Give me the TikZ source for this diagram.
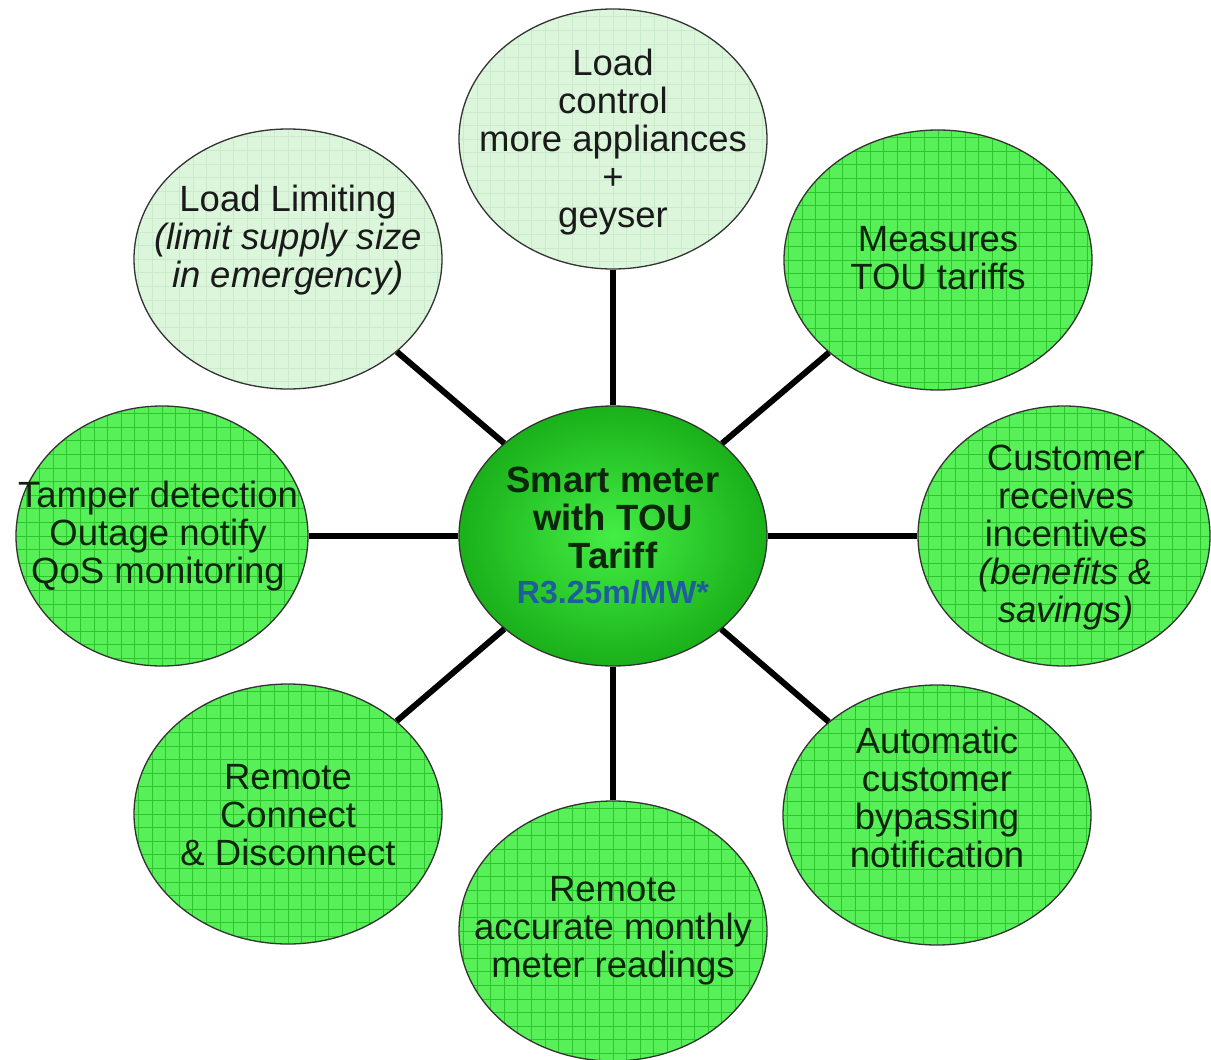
\documentclass[tikz,border=0pt]{standalone}
\usepackage{fontspec}
\setmainfont{Liberation Sans}
\usepackage{tikz}
\usetikzlibrary{shapes.geometric}

\definecolor{meterGreen}{HTML}{58F058}
\definecolor{meterGrid}{HTML}{2DC42D}
\definecolor{paleGreen}{HTML}{DBF6DB}
\definecolor{paleGrid}{HTML}{CBE9CB}
\definecolor{hubLight}{HTML}{44EE44}
\definecolor{hubDark}{HTML}{1AB01A}
\definecolor{priceBlue}{HTML}{1F5E9E}
\definecolor{inkGreen}{HTML}{0C260C}
\definecolor{inkGrey}{HTML}{1A1A1A}

\tikzset{
    bubble/.style={ellipse, draw=black!80, line width=1.3pt,
        minimum width=308pt, minimum height=260pt, inner sep=0pt},
    bright/.style={bubble, fill=meterGreen, path picture={
        \draw[meterGrid, line width=0.8pt] (path picture bounding box.south west)
            grid[step=13.6pt] (path picture bounding box.north east);}},
    pale/.style={bubble, fill=paleGreen, path picture={
        \draw[paleGrid, line width=0.6pt] (path picture bounding box.south west)
            grid[step=13.6pt] (path picture bounding box.north east);}},
    hub/.style={bubble, inner color=hubLight, outer color=hubDark},
    txt/.style={align=center, inner sep=0pt, text=inkGreen,
        font=\fontsize{36.5}{38}\selectfont},
    link/.style={line width=6pt, black},
}

\begin{document}
\begin{tikzpicture}[x=1pt,y=-1pt]
    \fill[white] (0,0) rectangle (1211,1060);
    \useasboundingbox (0,0) rectangle (1211,1060);

    % bubbles
    \node[hub] (hub) at (613,536) {};
    \node[pale] (control) at (613,139) {};
    \node[pale] (limit) at (288,259) {};
    \node[bright] (tou) at (938,260) {};
    \node[bright, minimum width=292pt] (incent) at (1064,536) {};
    \node[bright] (bypass) at (937,815) {};
    \node[bright] (reading) at (613,931) {};
    \node[bright] (connect) at (288,814) {};
    \node[bright, minimum width=292pt] (tamper) at (162,536) {};

    % spokes
    \draw[link] (hub) -- (control);
    \draw[link] (hub) -- (limit);
    \draw[link] (hub) -- (tou);
    \draw[link] (hub) -- (incent);
    \draw[link] (hub) -- (bypass);
    \draw[link] (hub) -- (reading);
    \draw[link] (hub) -- (connect);
    \draw[link] (hub) -- (tamper);

    % texts
    \node[txt] (hub-t) at (613,536) {\textbf{Smart meter}\\\textbf{with TOU}\\\textbf{Tariff}\\[-3pt]
        {\fontsize{32}{34}\selectfont\bfseries\color{priceBlue}R3.25m/MW*}};
    \node[txt, text=inkGrey] (control-t) at (613,142) {Load\\control\\more appliances\\+\\geyser};
    \node[txt, text=inkGrey] (limit-t) at (288,240) {Load Limiting\\\textit{(limit supply size}\\\textit{in emergency)}};
    \node[txt] (tou-t) at (938,258) {Measures\\TOU tariffs};
    \node[txt] (incent-t) at (1066,538) {Customer\\receives\\incentives\\\textit{(benefits \&}\\\textit{savings)}};
    \node[txt] (bypass-t) at (937,797) {Automatic\\customer\\bypassing\\notification};
    \node[txt] (reading-t) at (613,931) {Remote\\accurate monthly\\meter readings};
    \node[txt] (connect-t) at (288,815) {Remote\\Connect\\\& Disconnect};
    \node[txt] (tamper-t) at (158,536) {Tamper detection\\Outage notify\\QoS monitoring};
\end{tikzpicture}
\end{document}
